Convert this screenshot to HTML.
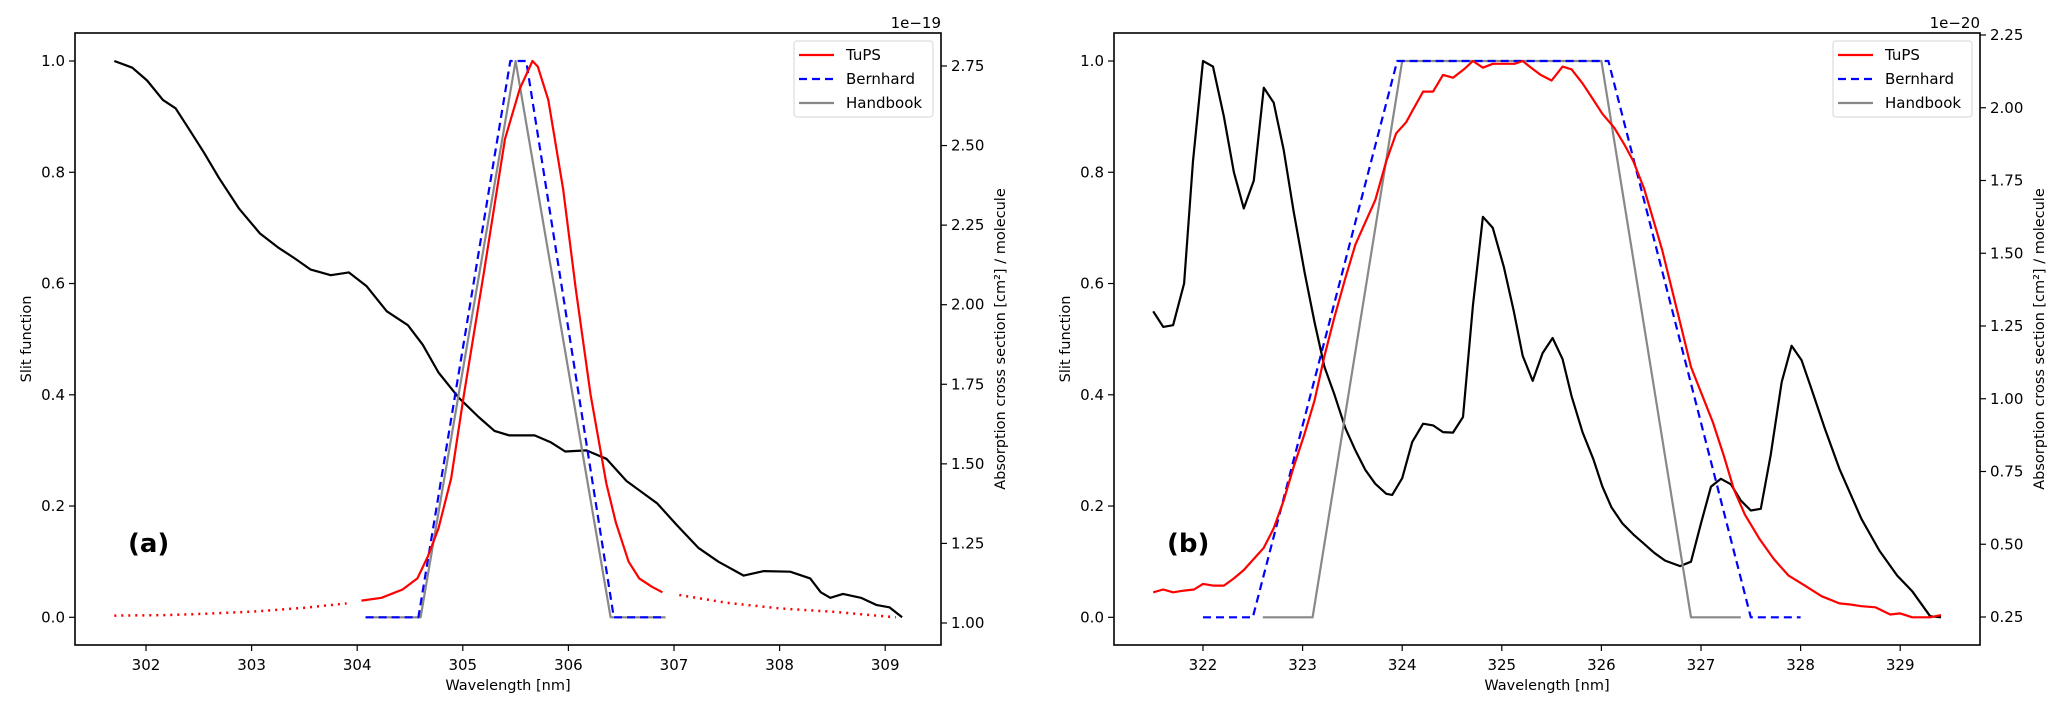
<!DOCTYPE html>
<html><head><meta charset="utf-8"><style>
html,body{margin:0;padding:0;background:#fff;}
svg{display:block;font-family:"DejaVu Sans","Liberation Sans",sans-serif;}
</style></head><body>
<svg id="fig" width="2067" height="701" viewBox="0 0 2067 701" xmlns="http://www.w3.org/2000/svg"></svg>
<script>
// Panel (a) data
const aBlackX=[301.70,301.87,302.01,302.16,302.28,302.40,302.55,302.69,302.88,303.08,303.25,303.41,303.56,303.75,303.92,304.09,304.28,304.48,304.62,304.77,304.96,305.15,305.30,305.44,305.68,305.83,305.97,306.17,306.36,306.55,306.84,307.03,307.23,307.42,307.66,307.85,308.10,308.29,308.39,308.48,308.60,308.77,308.92,309.04,309.16];
const aBlackS=[1.0,0.988,0.965,0.93,0.915,0.88,0.835,0.79,0.735,0.69,0.665,0.645,0.625,0.615,0.62,0.595,0.55,0.525,0.49,0.44,0.395,0.36,0.335,0.327,0.327,0.315,0.298,0.30,0.285,0.245,0.205,0.165,0.125,0.10,0.075,0.083,0.082,0.07,0.045,0.035,0.042,0.035,0.022,0.018,0.0];
const aRedX=[304.04,304.23,304.43,304.57,304.67,304.77,304.89,305.01,305.20,305.40,305.54,305.66,305.71,305.81,305.95,306.07,306.21,306.36,306.45,306.57,306.67,306.79,306.89];
const aRedY=[0.03,0.035,0.05,0.07,0.11,0.16,0.25,0.40,0.62,0.86,0.95,1.0,0.99,0.93,0.77,0.59,0.40,0.24,0.17,0.10,0.07,0.055,0.045];
const aRedDotLX=[301.7,302.2,302.5,303.0,303.5,303.9];
const aRedDotLY=[0.003,0.004,0.006,0.01,0.017,0.025];
const aRedDotRX=[307.05,307.5,308.0,308.5,309.1];
const aRedDotRY=[0.04,0.026,0.016,0.01,0.0];
const aBernX=[304.08,304.58,305.45,305.6,306.43,306.92];
const aBernY=[0,0,1,1,0,0];
const aHandX=[304.08,304.6,305.5,306.4,306.92];
const aHandY=[0,0,1,0,0];
const aXTicks=[302,303,304,305,306,307,308,309];
const aRTicks=[1.00,1.25,1.50,1.75,2.00,2.25,2.50,2.75];
// Panel (b) data
const bBlackX=[321.50,321.60,321.70,321.81,321.90,322.00,322.10,322.21,322.31,322.41,322.51,322.61,322.71,322.81,322.91,323.02,323.12,323.22,323.32,323.43,323.53,323.63,323.73,323.84,323.90,324.00,324.10,324.21,324.31,324.41,324.51,324.61,324.71,324.81,324.91,325.02,325.12,325.21,325.31,325.41,325.51,325.61,325.70,325.81,325.92,326.01,326.10,326.21,326.32,326.43,326.53,326.64,326.79,326.90,327.00,327.10,327.20,327.30,327.40,327.50,327.60,327.70,327.81,327.91,328.01,328.10,328.24,328.39,328.50,328.61,328.79,328.97,329.12,329.30,329.41];
const bBlackS=[0.55,0.522,0.525,0.60,0.82,1.0,0.99,0.90,0.80,0.735,0.785,0.952,0.925,0.84,0.73,0.62,0.53,0.45,0.40,0.34,0.30,0.265,0.24,0.222,0.22,0.25,0.315,0.348,0.345,0.333,0.332,0.36,0.56,0.72,0.70,0.63,0.55,0.47,0.425,0.475,0.502,0.464,0.398,0.333,0.284,0.235,0.198,0.169,0.149,0.132,0.116,0.102,0.092,0.10,0.169,0.235,0.249,0.239,0.21,0.192,0.195,0.292,0.423,0.488,0.462,0.415,0.341,0.267,0.222,0.177,0.12,0.075,0.047,0.002,0.0];
const bRedX=[321.50,321.60,321.70,321.81,321.91,322.00,322.10,322.21,322.31,322.41,322.51,322.61,322.71,322.81,322.91,323.02,323.12,323.22,323.32,323.43,323.53,323.63,323.73,323.84,323.94,324.04,324.10,324.21,324.31,324.41,324.51,324.62,324.71,324.81,324.91,325.02,325.13,325.21,325.28,325.39,325.50,325.61,325.70,325.81,325.92,326.01,326.13,326.23,326.32,326.43,326.61,326.79,326.90,327.01,327.12,327.23,327.33,327.44,327.59,327.73,327.88,328.06,328.21,328.39,328.50,328.61,328.75,328.90,329.00,329.12,329.30,329.41];
const bRedY=[0.045,0.05,0.045,0.048,0.05,0.06,0.057,0.057,0.07,0.085,0.105,0.125,0.16,0.21,0.27,0.33,0.39,0.47,0.54,0.61,0.67,0.71,0.75,0.82,0.87,0.89,0.91,0.945,0.945,0.975,0.97,0.985,1.0,0.988,0.995,0.995,0.995,1.0,0.99,0.975,0.965,0.99,0.985,0.96,0.93,0.905,0.88,0.85,0.82,0.77,0.66,0.53,0.45,0.40,0.35,0.29,0.23,0.185,0.14,0.105,0.075,0.055,0.038,0.025,0.023,0.02,0.018,0.005,0.007,0.0,0.0,0.004];
const bBernX=[322.0,322.5,323.95,326.07,327.5,328.0];
const bBernY=[0,0,1,1,0,0];
const bHandX=[322.6,323.1,324.0,326.0,326.9,327.4];
const bHandY=[0,0,1,1,0,0];
const bXTicks=[322,323,324,325,326,327,328,329];
const bRTicks=[0.25,0.50,0.75,1.00,1.25,1.50,1.75,2.00,2.25];
const slitTicks=[0.0,0.2,0.4,0.6,0.8,1.0];
const legendLabels=["TuPS","Bernhard","Handbook"];

const NS="http://www.w3.org/2000/svg";
const fig=document.getElementById('fig');
function mk(tag,attrs,parent,txt){const e=document.createElementNS(NS,tag);for(const k in attrs)e.setAttribute(k,attrs[k]);if(txt!==undefined)e.textContent=txt;(parent||fig).appendChild(e);return e;}

const TOP=33,BOT=645;
function yS(v){return 617.3-556.3*v;}

function panel(cfg){
  const g=mk('g',{});
  
  
  const xS=v=>cfg.x0+(v-cfg.t0)*cfg.dx;
  const yR=v=>cfg.r0y-(v-cfg.r0)*cfg.rdy;
  const slitEqToR=s=>cfg.r0+(cfg.r0y-yS(s))/cfg.rdy;
  const line=(xs,ys,f,color,extra,name)=>{
    const pts=xs.map((x,i)=>xS(x).toFixed(1)+','+f(ys[i]).toFixed(1)).join(' ');
    const p=mk('polyline',Object.assign({points:pts,fill:'none',stroke:color,'stroke-width':2.2,'stroke-linejoin':'round'},extra),g);
    
    
  };
  const bv=cfg.blackS.map(s=>slitEqToR(s));
  line(cfg.blackX,bv,yR,'#000',{},'absorption-cross-section-line');
  line(cfg.handX,cfg.handY,yS,'#888',{},'handbook-line');
  line(cfg.bernX,cfg.bernY,yS,'#0000ff',{'stroke-dasharray':'8,5'},'bernhard-line');
  line(cfg.redX,cfg.redY,yS,'#ff0000',{},'tups-line');
  if(cfg.dotL){
    line(cfg.dotL[0],cfg.dotL[1],yS,'#ff0000',{'stroke-dasharray':'2,5','stroke-width':2.5},'tups-dotted-left');
    line(cfg.dotR[0],cfg.dotR[1],yS,'#ff0000',{'stroke-dasharray':'2,5','stroke-width':2.5},'tups-dotted-right');
  }
  const fr=mk('rect',{x:cfg.L,y:TOP,width:cfg.R-cfg.L,height:BOT-TOP,fill:'none',stroke:'#000','stroke-width':1.6},g);
  
  
  cfg.xt.forEach(t=>{
    const x=xS(t);
    mk('line',{x1:x,x2:x,y1:BOT,y2:BOT+6,stroke:'#000','stroke-width':1.2},g);
    const tx=mk('text',{x:x,y:BOT+25,'font-size':15,'text-anchor':'middle'},g,String(t));
    
    
  });
  slitTicks.forEach(t=>{
    const y=yS(t);
    mk('line',{x1:cfg.L-6,x2:cfg.L,y1:y,y2:y,stroke:'#000','stroke-width':1.2},g);
    const tx=mk('text',{x:cfg.L-10,y:y+5,'font-size':15,'text-anchor':'end'},g,t.toFixed(1));
    
    
  });
  cfg.rt.forEach(t=>{
    const y=yR(t);
    mk('line',{x1:cfg.R,x2:cfg.R+6,y1:y,y2:y,stroke:'#000','stroke-width':1.2},g);
    const tx=mk('text',{x:cfg.R+10,y:y+5,'font-size':15},g,t.toFixed(2));
    
    
  });
  const xl=mk('text',{x:(cfg.L+cfg.R)/2,y:690,'font-size':14.5,'text-anchor':'middle'},g,'Wavelength [nm]');
  
  
  const yl=mk('text',{x:0,y:0,'font-size':14.5,'text-anchor':'middle',transform:`translate(${cfg.L-44},339) rotate(-90)`},g,'Slit function');
  
  
  const ry=mk('text',{x:0,y:0,'font-size':14.5,'text-anchor':'middle',transform:`translate(${cfg.R+64},339) rotate(-90)`},g,'Absorption cross section [cm²] / molecule');
  
  
  const off=mk('text',{x:cfg.R,y:28,'font-size':15,'text-anchor':'end'},g,cfg.offset);
  
  
  const pl=mk('text',{x:cfg.panelX,y:552,'font-size':26,'font-weight':'bold'},g,cfg.label);
  
  
  const lx=cfg.R-147, ly=41;
  const lb=mk('rect',{x:lx,y:ly,width:139,height:76,rx:3,fill:'#fff','fill-opacity':0.85,stroke:'#ddd','stroke-width':1.2},g);
  
  
  const styles=[['#ff0000',''],['#0000ff','8,5'],['#888','']];
  legendLabels.forEach((lab,i)=>{
    const y=ly+14+i*24;
    const sw=mk('line',{x1:lx+5,x2:lx+40,y1:y,y2:y,stroke:styles[i][0],'stroke-width':2.2,'stroke-dasharray':styles[i][1]||'none'},g);
    
    
    const t=mk('text',{x:lx+52,y:y+5,'font-size':15},g,lab);
    
    
  });
}

panel({name:'panel-a',L:75,R:941,x0:146,t0:302,dx:105.6,r0:1.0,r0y:623,rdy:318.3,
  blackX:aBlackX,blackS:aBlackS,redX:aRedX,redY:aRedY,bernX:aBernX,bernY:aBernY,handX:aHandX,handY:aHandY,
  dotL:[aRedDotLX,aRedDotLY],dotR:[aRedDotRX,aRedDotRY],xt:aXTicks,rt:aRTicks,offset:'1e\u221219',label:'(a)',panelX:128});
panel({name:'panel-b',L:1114,R:1980,x0:1203,t0:322,dx:99.6,r0:0.25,r0y:617,rdy:291,
  blackX:bBlackX,blackS:bBlackS,redX:bRedX,redY:bRedY,bernX:bBernX,bernY:bBernY,handX:bHandX,handY:bHandY,
  xt:bXTicks,rt:bRTicks,offset:'1e\u221220',label:'(b)',panelX:1167});
</script>
</body></html>
